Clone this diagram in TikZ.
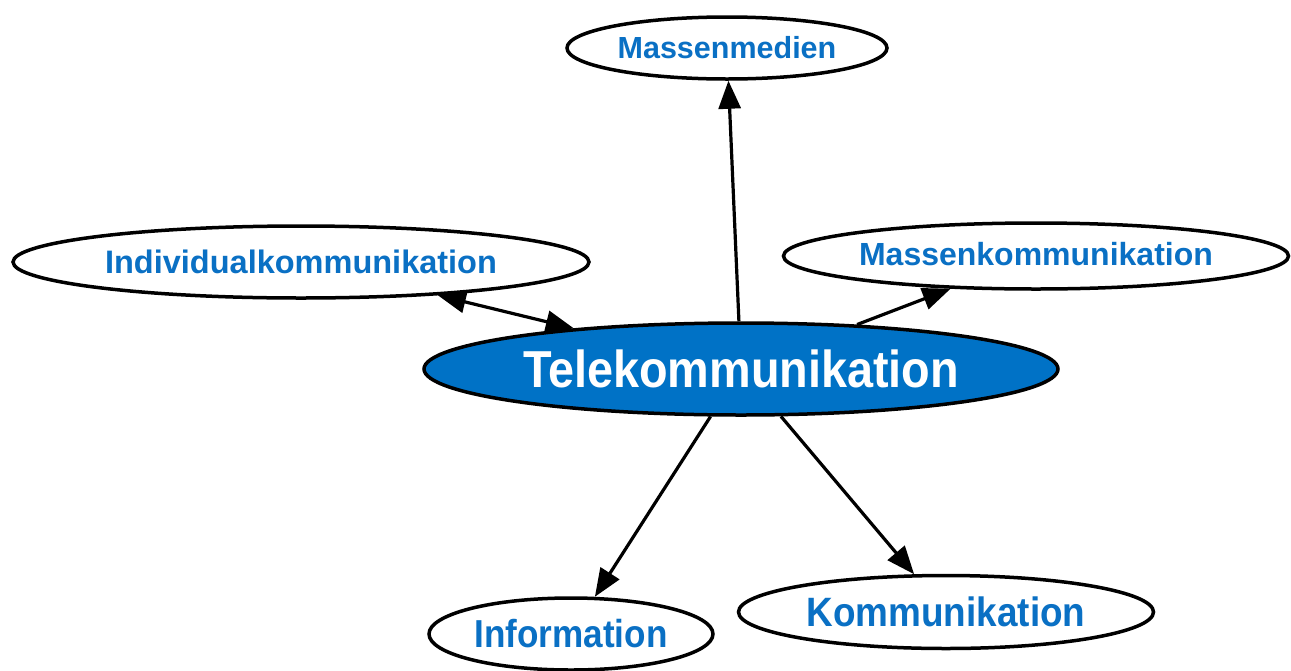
\documentclass[tikz,border=0pt]{standalone}
\usepackage{fontspec}
\setmainfont{Liberation Sans}
\newfontfamily\narrowfont{Liberation Sans}[FakeStretch=0.9]
\usetikzlibrary{shapes.geometric,arrows.meta}
\definecolor{tkblue}{RGB}{0,114,198}
\definecolor{txtblue}{RGB}{10,112,196}
\tikzset{
  oval/.style={ellipse,draw=black,line width=3.5pt,fill=white,inner sep=0pt,
    text=txtblue,font=\bfseries\fontsize{32}{38}\selectfont},
  ovalnarrow/.style={oval,font=\narrowfont\bfseries\fontsize{39}{44}\selectfont},
  hub/.style={ellipse,draw=black,line width=3.5pt,fill=tkblue,inner sep=0pt,
    text=white,font=\narrowfont\bfseries\fontsize{52}{58}\selectfont},
  link/.style={line width=3.2pt,-{Triangle[length=28pt,width=22pt]}},
  link2/.style={line width=3.2pt,{Triangle[length=28pt,width=22pt]}-{Triangle[length=28pt,width=22pt]}}
}
\begin{document}
\begin{tikzpicture}[x=1pt,y=-1pt]
\useasboundingbox (0,0) rectangle (1291,670);
\node[hub,minimum width=634pt,minimum height=92pt] (tele) at (741,369) {Telekommunikation};
\node[oval,minimum width=320pt,minimum height=62pt,font=\bfseries\fontsize{30.5}{36}\selectfont] (mm) at (727,48) {Massenmedien};
\node[oval,minimum width=576pt,minimum height=72pt,font=\bfseries\fontsize{32.5}{38}\selectfont] (ik) at (301,262) {Individualkommunikation};
\node[oval,minimum width=505pt,minimum height=66pt] (mk) at (1036,256) {\raisebox{5pt}{Massenkommunikation}};
\node[ovalnarrow,minimum width=284pt,minimum height=72pt] (inf) at (571,634) {Information};
\node[ovalnarrow,minimum width=415pt,minimum height=73pt,font=\narrowfont\bfseries\fontsize{41}{46}\selectfont] (km) at (946,612) {Kommunikation};
\draw[link] (tele) -- (mm);
\draw[link2] (ik) -- (tele);
\draw[link] (tele) -- (mk);
\draw[link] (tele) -- (inf);
\draw[link] (tele) -- (km);
\end{tikzpicture}
\end{document}
